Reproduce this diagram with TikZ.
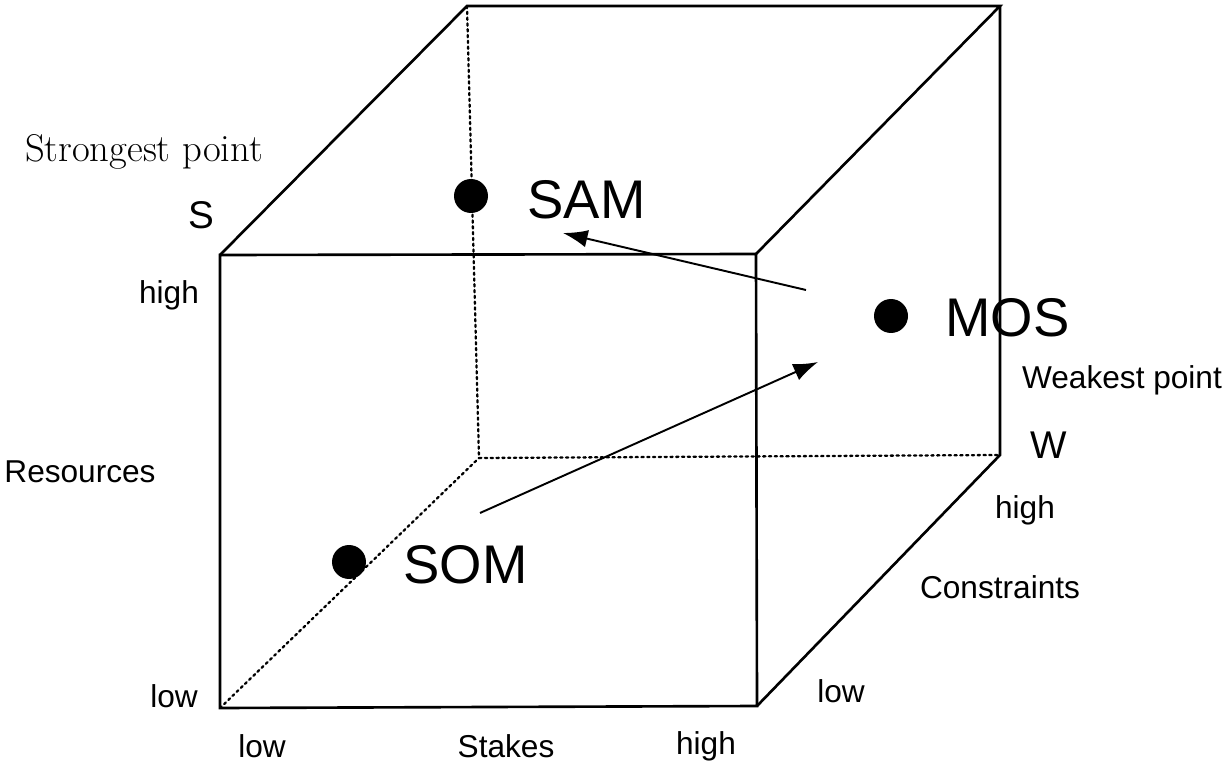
\documentclass[tikz,border=0pt]{standalone}
\usepackage{fontspec}
\newfontfamily\labelfont{Liberation Sans}
\usetikzlibrary{arrows.meta,positioning}
\tikzset{
	x=0.02cm, y=-0.02cm,
	edge/.style = {line width=1.5pt, line join=miter},
	hidden/.style = {line width=1.3pt, dotted, line cap=round},
	move/.style = {line width=1.1pt, -{Latex[length=14pt,width=10pt]}},
	dot/.style = {circle, fill, inner sep=0pt, minimum size=0.68cm},
	tag/.style = {inner sep=0pt, font=\labelfont\fontsize{18}{20}\selectfont},
	end tag/.style = {inner sep=0pt, font=\labelfont\fontsize{22}{24}\selectfont},
	big tag/.style = {inner sep=0pt, anchor=west, font=\labelfont\fontsize{31}{34}\selectfont}
}
\begin{document}
\begin{tikzpicture}
            \useasboundingbox (0,0) rectangle (1228,767);
            % cube corners
            \coordinate (fa) at (220,255);
            \coordinate (fb) at (756,254);
            \coordinate (fc) at (757,706);
            \coordinate (fd) at (220,708);
            \coordinate (ba) at (467,6);
            \coordinate (bb) at (1000,6);
            \coordinate (bc) at (1000,455);
            \coordinate (bd) at (479,458);
            \draw[edge] (fa) -- (fb) -- (fc) -- (fd) -- cycle;
            \draw[edge] (fa) -- (ba) -- (bb) -- (fb);
            \draw[edge] (bb) -- (bc) -- (fc);
            \draw[hidden] (ba) -- (bd) -- (bc);
            \draw[hidden] (fd) -- (bd);
            % the three points
            \node[dot] (sam) at (471,196) {};
            \node[dot] (mos) at (891,316) {};
            \node[dot] (som) at (349,562) {};
            \node[big tag] (samtag) at (527,200) {SAM};
            \node[big tag] (mostag) at (945,318) {MOS};
            \node[big tag] (somtag) at (403,565) {SOM};
            % moves
            \coordinate (m1) at (806,290);
            \coordinate (m2) at (563,233);
            \coordinate (m3) at (480,513);
            \coordinate (m4) at (818,362);
            \draw[move] (m1) -- (m2);
            \draw[move] (m3) -- (m4);
            % axis labels
            \node[inner sep=0pt, font=\fontsize{22}{24}\selectfont] (strong) at (144,152) {Strongest point};
            \node[end tag] (s) at (201,215) {S};
            \node[tag] (reshigh) at (169,295) {high};
            \node[tag] (res) at (80,472) {Resources};
            \node[tag] (reslow) at (174,696) {low};
            \node[tag] (stlow) at (262,746) {low};
            \node[tag] (st) at (506,746) {Stakes};
            \node[tag] (sthigh) at (706,746) {high};
            \node[tag] (weak) at (1122,380) {Weakest point};
            \node[end tag] (w) at (1049,445) {W};
            \node[tag] (conhigh) at (1025,510) {high};
            \node[tag] (con) at (1000,587) {Constraints};
            \node[tag] (conlow) at (841,691) {low};
        \end{tikzpicture}
\end{document}
